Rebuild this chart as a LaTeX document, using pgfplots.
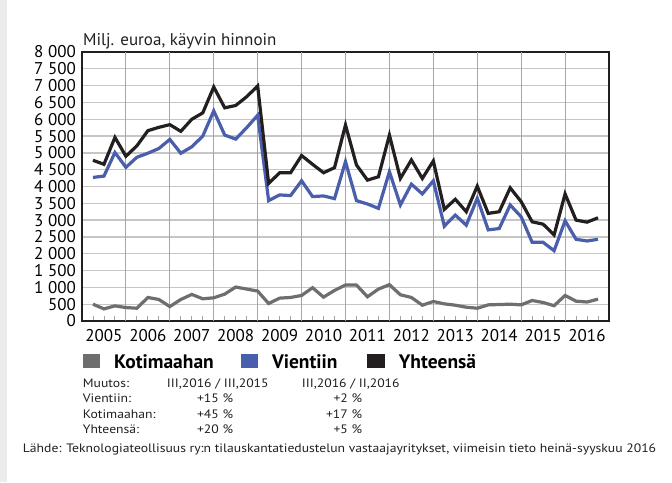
\documentclass[border=0pt]{standalone}
\usepackage{fontspec}
\setmainfont{PT Sans}
\newfontfamily\smallf[FakeStretch=1.12]{PT Sans}
\usepackage{pgfplots}
\usepackage{pgfplotstable}
\pgfplotsset{compat=1.18}
\definecolor{kblack}{HTML}{231F20}
\definecolor{kblue}{HTML}{4A5FAB}
\definecolor{kgray}{HTML}{6E6E6E}
\definecolor{gridh}{HTML}{C6C6C6}
\definecolor{gridv}{HTML}{A6A6A6}
\definecolor{strip}{HTML}{ECECEC}
\pgfplotstableread{
x kot vie yht
2005.25 500 4270 4780
2005.5 360 4310 4660
2005.75 450 5010 5460
2006 400 4570 4900
2006.25 380 4870 5210
2006.5 700 4990 5660
2006.75 640 5130 5760
2007 430 5400 5840
2007.25 640 4990 5640
2007.5 790 5180 6000
2007.75 660 5500 6190
2008 690 6250 6960
2008.25 800 5530 6340
2008.5 1010 5410 6410
2008.75 950 5750 6670
2009 890 6120 6990
2009.25 520 3580 4090
2009.5 680 3750 4410
2009.75 700 3730 4410
2010 760 4170 4920
2010.25 990 3700 4660
2010.5 710 3720 4410
2010.75 910 3640 4560
2011 1070 4740 5830
2011.25 1070 3580 4640
2011.5 720 3480 4190
2011.75 950 3350 4290
2012 1080 4440 5530
2012.25 780 3450 4240
2012.5 700 4070 4790
2012.75 470 3780 4240
2013 580 4170 4760
2013.25 510 2820 3320
2013.5 470 3150 3620
2013.75 410 2850 3250
2014 380 3650 4010
2014.25 480 2710 3200
2014.5 490 2750 3250
2014.75 500 3450 3960
2015 480 3100 3550
2015.25 610 2340 2950
2015.5 550 2340 2880
2015.75 455 2090 2560
2016 760 2980 3780
2016.25 590 2430 3000
2016.5 565 2380 2940
2016.75 650 2430 3070
}\data
\begin{document}
\begin{tikzpicture}
\path[fill=white] (0pt,0pt) rectangle (672pt,-482pt);
\fill[strip] (0pt,0pt) rectangle (7.3pt,-482pt);
\begin{axis}[
  at={(82pt,-321pt)}, anchor=south west,
  scale only axis, width=527pt, height=269pt,
  xmin=2005, xmax=2017, ymin=0, ymax=8000,
  axis line style={line width=1.6pt, color=kblack},
  xtick={2005.5,2006.5,...,2016.5},
  xticklabels={2005,2006,2007,2008,2009,2010,2011,2012,2013,2014,2015,2016},
  minor xtick={2005.25,2005.5,...,2016.75},
  extra x ticks={2006,2007,...,2016},
  extra x tick labels={},
  extra x tick style={xmajorgrids=true},
  x grid style={color=gridv, line width=0.9pt},
  ytick={0,500,...,8000},
  yticklabels={0,500,1~000,1~500,2~000,2~500,3~000,3~500,4~000,4~500,5~000,5~500,6~000,6~500,7~000,7~500,8~000},
  ymajorgrids=true,
  y grid style={color=gridh, line width=1.3pt},
  tick align=inside,
  xtick pos=bottom, ytick pos=left,
  major tick length=0pt,
  minor tick length=5pt,
  minor tick style={color=gridv, line width=0.9pt},
  tick label style={font=\fontsize{17}{17}\selectfont, inner sep=0pt},
  yticklabel style={anchor=east, xshift=-6pt},
  xticklabel style={anchor=north, yshift=-8.4pt},
  legend columns=3,
  legend image code/.code={\path[#1, draw=none, fill] (0pt,0.5pt) rectangle (17.5pt,13.9pt);},
  legend style={at={(0,0)}, anchor=north west, draw=none, fill=none,
    inner sep=0pt, outer sep=0pt, xshift=0.7pt, yshift=-33.3pt,
    font=\bfseries\fontsize{19.5}{19.5}\selectfont,
    cells={anchor=base west},
    nodes={inner sep=0pt},
    /tikz/every odd column/.append style={column sep=14pt}},
]
\addplot[color=kgray, line width=3.2pt] table[x=x, y=kot] {\data};
\addlegendentry{\makebox[126.4pt][l]{Kotimaahan}}
\addplot[color=kblue, line width=3.2pt] table[x=x, y=vie] {\data};
\addlegendentry{\makebox[95.3pt][l]{Vientiin}}
\addplot[color=kblack, line width=3.2pt] table[x=x, y=yht] {\data};
\addlegendentry{Yhteensä}
\end{axis}
\node[anchor=base west, inner sep=0pt, font=\fontsize{17}{17}\selectfont, text=kblack] at (83pt,-45pt) {Milj. euroa, käyvin hinnoin};
\begin{scope}[every node/.style={inner sep=0pt, font=\smallf\fontsize{12.2}{12.2}\selectfont, text=kblack}]
\node[anchor=base west] at (82.7pt,-387pt) {Muutos:};
\node[anchor=base west] at (166.7pt,-387pt) {III,2016 / III,2015};
\node[anchor=base west] at (301.7pt,-387pt) {III,2016 / II,2016};
\node[anchor=base west] at (82.7pt,-402.5pt) {Vientiin:};
\node[anchor=base east] at (233.3pt,-402.5pt) {+15 \%};
\node[anchor=base east] at (362.3pt,-402.5pt) {+2 \%};
\node[anchor=base west] at (82.7pt,-418pt) {Kotimaahan:};
\node[anchor=base east] at (233.3pt,-418pt) {+45 \%};
\node[anchor=base east] at (362.3pt,-418pt) {+17 \%};
\node[anchor=base west] at (82.7pt,-433.5pt) {Yhteensä:};
\node[anchor=base east] at (233.3pt,-433.5pt) {+20 \%};
\node[anchor=base east] at (362.3pt,-433.5pt) {+5 \%};
\node[anchor=base west] at (22.7pt,-452.7pt) {Lähde: Teknologiateollisuus ry:n tilauskantatiedustelun vastaajayritykset, viimeisin tieto heinä-syyskuu 2016};
\end{scope}
\end{tikzpicture}
\end{document}
